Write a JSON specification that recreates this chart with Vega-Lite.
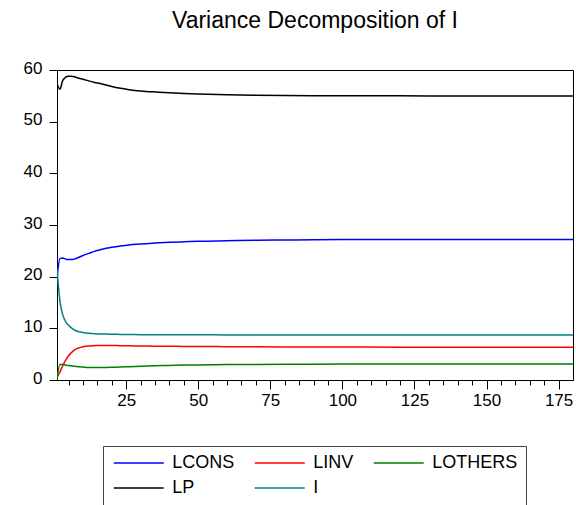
{
  "$schema": "https://vega.github.io/schema/vega-lite/v6.json",
  "autosize": {"type": "none"},
  "padding": {"left": 57, "top": 70, "right": 3, "bottom": 125},
  "width": 516,
  "height": 310,
  "background": "white",
  "config": {
    "view": {"stroke": "black", "strokeWidth": 1},
    "font": "Liberation Sans"
  },
  "title": {
    "text": "Variance Decomposition of I",
    "font": "Liberation Sans",
    "fontSize": 23,
    "fontWeight": "normal",
    "color": "black",
    "anchor": "middle",
    "frame": "group",
    "baseline": "alphabetic",
    "offset": 8
  },
  "data": {
    "values": [
      {"period": 1, "series": "LP", "value": 57.4}, {"period": 2, "series": "LP", "value": 56.3}, {"period": 3, "series": "LP", "value": 58.0}, {"period": 4, "series": "LP", "value": 58.6}, {"period": 5, "series": "LP", "value": 58.8}, {"period": 6, "series": "LP", "value": 58.8}, {"period": 7, "series": "LP", "value": 58.7}, {"period": 8, "series": "LP", "value": 58.5}, {"period": 10, "series": "LP", "value": 58.2}, {"period": 12, "series": "LP", "value": 57.9}, {"period": 14, "series": "LP", "value": 57.6}, {"period": 16, "series": "LP", "value": 57.4}, {"period": 18, "series": "LP", "value": 57.1}, {"period": 20, "series": "LP", "value": 56.8}, {"period": 23, "series": "LP", "value": 56.45}, {"period": 26, "series": "LP", "value": 56.2}, {"period": 30, "series": "LP", "value": 55.95}, {"period": 35, "series": "LP", "value": 55.75}, {"period": 40, "series": "LP", "value": 55.6}, {"period": 45, "series": "LP", "value": 55.45}, {"period": 50, "series": "LP", "value": 55.35}, {"period": 60, "series": "LP", "value": 55.2}, {"period": 70, "series": "LP", "value": 55.12}, {"period": 80, "series": "LP", "value": 55.07}, {"period": 90, "series": "LP", "value": 55.04}, {"period": 100, "series": "LP", "value": 55.02}, {"period": 120, "series": "LP", "value": 55.0}, {"period": 140, "series": "LP", "value": 54.98}, {"period": 160, "series": "LP", "value": 54.96}, {"period": 180, "series": "LP", "value": 54.95},
      {"period": 1, "series": "LCONS", "value": 19.5}, {"period": 2, "series": "LCONS", "value": 23.5}, {"period": 3, "series": "LCONS", "value": 23.6}, {"period": 4, "series": "LCONS", "value": 23.4}, {"period": 5, "series": "LCONS", "value": 23.3}, {"period": 6, "series": "LCONS", "value": 23.3}, {"period": 7, "series": "LCONS", "value": 23.4}, {"period": 8, "series": "LCONS", "value": 23.6}, {"period": 10, "series": "LCONS", "value": 24.1}, {"period": 12, "series": "LCONS", "value": 24.5}, {"period": 14, "series": "LCONS", "value": 24.9}, {"period": 16, "series": "LCONS", "value": 25.2}, {"period": 18, "series": "LCONS", "value": 25.5}, {"period": 20, "series": "LCONS", "value": 25.7}, {"period": 23, "series": "LCONS", "value": 25.95}, {"period": 26, "series": "LCONS", "value": 26.15}, {"period": 30, "series": "LCONS", "value": 26.3}, {"period": 35, "series": "LCONS", "value": 26.5}, {"period": 40, "series": "LCONS", "value": 26.65}, {"period": 45, "series": "LCONS", "value": 26.75}, {"period": 50, "series": "LCONS", "value": 26.85}, {"period": 60, "series": "LCONS", "value": 26.95}, {"period": 70, "series": "LCONS", "value": 27.05}, {"period": 80, "series": "LCONS", "value": 27.1}, {"period": 90, "series": "LCONS", "value": 27.15}, {"period": 100, "series": "LCONS", "value": 27.17}, {"period": 120, "series": "LCONS", "value": 27.2}, {"period": 140, "series": "LCONS", "value": 27.2}, {"period": 160, "series": "LCONS", "value": 27.2}, {"period": 180, "series": "LCONS", "value": 27.2},
      {"period": 1, "series": "LINV", "value": 0.5}, {"period": 2, "series": "LINV", "value": 1.5}, {"period": 3, "series": "LINV", "value": 2.8}, {"period": 4, "series": "LINV", "value": 3.8}, {"period": 5, "series": "LINV", "value": 4.7}, {"period": 6, "series": "LINV", "value": 5.3}, {"period": 7, "series": "LINV", "value": 5.8}, {"period": 8, "series": "LINV", "value": 6.1}, {"period": 10, "series": "LINV", "value": 6.45}, {"period": 12, "series": "LINV", "value": 6.6}, {"period": 14, "series": "LINV", "value": 6.65}, {"period": 16, "series": "LINV", "value": 6.68}, {"period": 18, "series": "LINV", "value": 6.68}, {"period": 20, "series": "LINV", "value": 6.67}, {"period": 23, "series": "LINV", "value": 6.65}, {"period": 26, "series": "LINV", "value": 6.62}, {"period": 30, "series": "LINV", "value": 6.58}, {"period": 35, "series": "LINV", "value": 6.55}, {"period": 40, "series": "LINV", "value": 6.52}, {"period": 45, "series": "LINV", "value": 6.5}, {"period": 50, "series": "LINV", "value": 6.48}, {"period": 60, "series": "LINV", "value": 6.45}, {"period": 70, "series": "LINV", "value": 6.42}, {"period": 80, "series": "LINV", "value": 6.4}, {"period": 90, "series": "LINV", "value": 6.39}, {"period": 100, "series": "LINV", "value": 6.38}, {"period": 120, "series": "LINV", "value": 6.36}, {"period": 140, "series": "LINV", "value": 6.35}, {"period": 160, "series": "LINV", "value": 6.34}, {"period": 180, "series": "LINV", "value": 6.33},
      {"period": 1, "series": "LOTHERS", "value": 0.1}, {"period": 2, "series": "LOTHERS", "value": 3.0}, {"period": 3, "series": "LOTHERS", "value": 3.0}, {"period": 4, "series": "LOTHERS", "value": 2.9}, {"period": 5, "series": "LOTHERS", "value": 2.8}, {"period": 6, "series": "LOTHERS", "value": 2.75}, {"period": 7, "series": "LOTHERS", "value": 2.65}, {"period": 8, "series": "LOTHERS", "value": 2.6}, {"period": 10, "series": "LOTHERS", "value": 2.5}, {"period": 12, "series": "LOTHERS", "value": 2.42}, {"period": 14, "series": "LOTHERS", "value": 2.4}, {"period": 16, "series": "LOTHERS", "value": 2.4}, {"period": 18, "series": "LOTHERS", "value": 2.42}, {"period": 20, "series": "LOTHERS", "value": 2.45}, {"period": 23, "series": "LOTHERS", "value": 2.5}, {"period": 26, "series": "LOTHERS", "value": 2.58}, {"period": 30, "series": "LOTHERS", "value": 2.65}, {"period": 35, "series": "LOTHERS", "value": 2.75}, {"period": 40, "series": "LOTHERS", "value": 2.82}, {"period": 45, "series": "LOTHERS", "value": 2.88}, {"period": 50, "series": "LOTHERS", "value": 2.92}, {"period": 60, "series": "LOTHERS", "value": 2.98}, {"period": 70, "series": "LOTHERS", "value": 3.02}, {"period": 80, "series": "LOTHERS", "value": 3.05}, {"period": 90, "series": "LOTHERS", "value": 3.07}, {"period": 100, "series": "LOTHERS", "value": 3.08}, {"period": 120, "series": "LOTHERS", "value": 3.1}, {"period": 140, "series": "LOTHERS", "value": 3.1}, {"period": 160, "series": "LOTHERS", "value": 3.1}, {"period": 180, "series": "LOTHERS", "value": 3.1},
      {"period": 1, "series": "I", "value": 21.5}, {"period": 2, "series": "I", "value": 15.3}, {"period": 3, "series": "I", "value": 12.6}, {"period": 4, "series": "I", "value": 11.3}, {"period": 5, "series": "I", "value": 10.6}, {"period": 6, "series": "I", "value": 10.1}, {"period": 7, "series": "I", "value": 9.7}, {"period": 8, "series": "I", "value": 9.45}, {"period": 10, "series": "I", "value": 9.2}, {"period": 12, "series": "I", "value": 9.05}, {"period": 14, "series": "I", "value": 8.97}, {"period": 16, "series": "I", "value": 8.92}, {"period": 18, "series": "I", "value": 8.88}, {"period": 20, "series": "I", "value": 8.85}, {"period": 23, "series": "I", "value": 8.82}, {"period": 26, "series": "I", "value": 8.8}, {"period": 30, "series": "I", "value": 8.78}, {"period": 35, "series": "I", "value": 8.77}, {"period": 40, "series": "I", "value": 8.76}, {"period": 45, "series": "I", "value": 8.75}, {"period": 50, "series": "I", "value": 8.74}, {"period": 60, "series": "I", "value": 8.73}, {"period": 70, "series": "I", "value": 8.72}, {"period": 80, "series": "I", "value": 8.72}, {"period": 90, "series": "I", "value": 8.71}, {"period": 100, "series": "I", "value": 8.71}, {"period": 120, "series": "I", "value": 8.7}, {"period": 140, "series": "I", "value": 8.7}, {"period": 160, "series": "I", "value": 8.7}, {"period": 180, "series": "I", "value": 8.7}
    ]
  },
  "mark": {"type": "line", "interpolate": "monotone", "strokeWidth": 1.5, "clip": true},
  "encoding": {
    "x": {
      "field": "period",
      "type": "quantitative",
      "scale": {"domain": [1, 180], "nice": false, "zero": false},
      "axis": {
        "title": null,
        "grid": false,
        "values": [5, 10, 15, 20, 25, 30, 35, 40, 45, 50, 55, 60, 65, 70, 75, 80, 85, 90, 95, 100, 105, 110, 115, 120, 125, 130, 135, 140, 145, 150, 155, 160, 165, 170, 175],
        "labelExpr": "datum.value % 25 === 0 ? datum.label : ''",
        "tickSize": {"condition": {"test": "datum.value % 25 === 0", "value": 9}, "value": 5},
        "tickColor": "black",
        "tickWidth": 1,
        "domainColor": "black",
        "labelColor": "black",
        "labelFont": "Liberation Sans",
        "labelFontSize": 17,
        "labelPadding": 3,
        "labelFlush": false,
        "labelOverlap": false
      }
    },
    "y": {
      "field": "value",
      "type": "quantitative",
      "scale": {"domain": [0, 60], "nice": false},
      "axis": {
        "title": null,
        "grid": false,
        "values": [0, 10, 20, 30, 40, 50, 60],
        "tickSize": 8,
        "tickColor": "black",
        "domainColor": "black",
        "labelColor": "black",
        "labelFont": "Liberation Sans",
        "labelFontSize": 17,
        "labelPadding": 7,
        "labelOffset": -2,
        "labelFlush": false
      }
    },
    "color": {
      "field": "series",
      "type": "nominal",
      "scale": {
        "domain": ["LCONS", "LINV", "LOTHERS", "LP", "I"],
        "range": ["#0000ff", "#ff0000", "#008000", "#000000", "#008080"]
      },
      "legend": {
        "title": null,
        "orient": "none",
        "legendX": 46,
        "legendY": 376,
        "direction": "horizontal",
        "columns": 3,
        "gridAlign": "each",
        "columnPadding": 16,
        "rowPadding": 7,
        "symbolType": "M-4,0H4",
        "symbolSize": 156.25,
        "symbolOffset": 18.75,
        "symbolStrokeWidth": 1.5,
        "labelOffset": 24.5,
        "labelFont": "Liberation Sans",
        "labelFontSize": 18,
        "labelColor": "black",
        "labelLimit": 200,
        "strokeColor": "#444444",
        "padding": 8,
        "fillColor": "white"
      }
    }
  }
}
